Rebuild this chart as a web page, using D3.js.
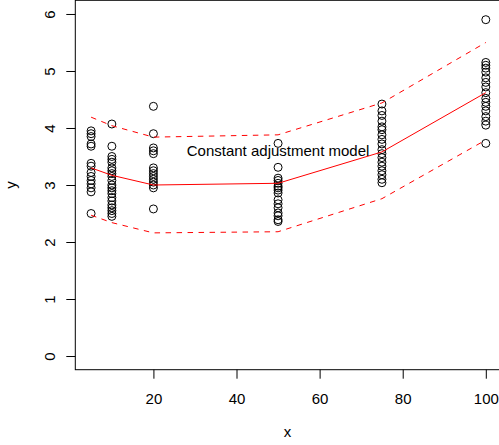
<!DOCTYPE html>
<html>
<head>
<meta charset="utf-8">
<script src="https://cdn.jsdelivr.net/npm/d3@7"></script>
<style>
  html, body { margin: 0; padding: 0; background: #fff; }
  svg { display: block; }
  text { font-family: "Liberation Sans", Arial, Helvetica, sans-serif; }
</style>
</head>
<body>
<script>
// ---- data ----
const doses = [5, 10, 20, 50, 75, 100];
const obs5   = [3.95, 3.9, 3.85, 3.72, 3.68, 3.38, 3.33, 3.22, 3.15, 3.08, 3.02, 2.95, 2.88, 2.5];
const obs10  = [4.07, 3.68, 3.5, 3.45, 3.4, 3.3, 3.25, 3.2, 3.15, 3.08, 3.0, 2.95, 2.9, 2.85, 2.78, 2.72, 2.65, 2.6, 2.55, 2.5, 2.45];
const obs20  = [4.38, 3.9, 3.65, 3.6, 3.55, 3.3, 3.25, 3.2, 3.15, 3.1, 3.05, 3.0, 2.95, 2.58];
const obs50  = [3.73, 3.31, 3.12, 3.08, 3.03, 2.98, 2.95, 2.91, 2.86, 2.74, 2.67, 2.6, 2.51, 2.46, 2.39, 2.36];
const obs75  = [4.42, 4.3, 4.22, 4.12, 4.02, 3.97, 3.88, 3.8, 3.72, 3.62, 3.55, 3.48, 3.4, 3.33, 3.25, 3.18, 3.1, 3.04];
const obs100 = [5.9, 5.15, 5.1, 5.05, 4.98, 4.88, 4.8, 4.72, 4.62, 4.52, 4.45, 4.38, 4.3, 4.2, 4.12, 4.05, 3.73];
const fitMean  = [3.3, 3.17, 3.0, 3.03, 3.58, 4.62];
const fitUpper = [4.19, 4.04, 3.84, 3.88, 4.44, 5.5];
const fitLower = [2.47, 2.34, 2.16, 2.18, 2.76, 3.79];
const xTicks = [20, 40, 60, 80, 100];
const yTicks = [0, 1, 2, 3, 4, 5, 6];
const annotation = "Constant adjustment model";
const annotationAt = [50, 3.61];
const xLabel = "x";
const yLabel = "y";

// ---- layout ----
const W = 499, H = 445;
const mLeft = 75.3, mRight = 501.6, mTop = 0.3, mBottom = 369.7;
const fontPx = 15;

const x = d3.scaleLinear().domain([1.2, 103.8]).range([mLeft, mRight]);
const y = d3.scaleLinear().domain([-0.24, 6.24]).range([mBottom, mTop]);

const svg = d3.select("body").append("svg").attr("width", W).attr("height", H);

// points
const groups = [obs5, obs10, obs20, obs50, obs75, obs100];
const pts = [];
groups.forEach((g, i) => g.forEach(v => pts.push({x: doses[i], y: v})));
svg.append("g").selectAll("circle").data(pts).join("circle")
  .attr("cx", d => x(d.x)).attr("cy", d => y(d.y)).attr("r", 4)
  .attr("fill", "none").attr("stroke", "#000").attr("stroke-width", 1);

// lines
const line = d3.line().x((d, i) => x(doses[i])).y(d => y(d));
svg.append("path").attr("d", line(fitMean)).attr("fill", "none").attr("stroke", "#ff0000").attr("stroke-width", 1);
svg.append("path").attr("d", line(fitUpper)).attr("fill", "none").attr("stroke", "#ff0000").attr("stroke-width", 1).attr("stroke-dasharray", "5.5,5.5");
svg.append("path").attr("d", line(fitLower)).attr("fill", "none").attr("stroke", "#ff0000").attr("stroke-width", 1).attr("stroke-dasharray", "5.5,5.5");

// annotation
svg.append("text").attr("x", x(annotationAt[0])).attr("y", y(annotationAt[1]))
  .attr("text-anchor", "middle").attr("dominant-baseline", "central")
  .attr("font-size", fontPx).text(annotation);

// box
svg.append("rect").attr("x", mLeft).attr("y", mTop).attr("width", mRight - mLeft).attr("height", mBottom - mTop)
  .attr("fill", "none").attr("stroke", "#000").attr("stroke-width", 1);

// x axis
const gx = svg.append("g").attr("transform", `translate(0,${mBottom})`)
  .call(d3.axisBottom(x).tickValues(xTicks).tickSize(9).tickFormat(d3.format("d")));
gx.select(".domain").remove();
gx.selectAll("line").attr("stroke", "#000");
gx.selectAll("text").attr("font-size", fontPx).attr("fill", "#000").attr("y", 34).attr("dy", null);

// y axis
const gy = svg.append("g").attr("transform", `translate(${mLeft},0)`)
  .call(d3.axisLeft(y).tickValues(yTicks).tickSize(9).tickFormat(d3.format("d")));
gy.select(".domain").remove();
gy.selectAll("line").attr("stroke", "#000");
gy.selectAll("text").attr("font-size", fontPx).attr("fill", "#000")
  .attr("transform", "rotate(-90)").attr("x", 0).attr("y", -20).attr("dy", null)
  .attr("text-anchor", "middle");

// axis titles
svg.append("text").attr("x", (mLeft + mRight) / 2 - 1).attr("y", 437).attr("text-anchor", "middle")
  .attr("font-size", fontPx).text(xLabel);
svg.append("text").attr("transform", `translate(16,${(mTop + mBottom) / 2}) rotate(-90)`)
  .attr("text-anchor", "middle").attr("font-size", fontPx).text(yLabel);
</script>
</body>
</html>
